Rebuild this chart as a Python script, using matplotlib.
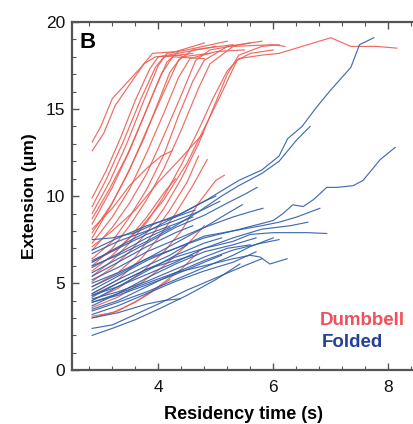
import matplotlib
matplotlib.use("Agg")
import matplotlib.pyplot as plt
from matplotlib.ticker import MultipleLocator

plt.rcParams['font.family'] = ['Liberation Sans', 'DejaVu Sans']

# ---- Dumbbell traces (time s, extension um) ----
d01 = [(2.85,13.1),(3.0,14.0),(3.2,15.6),(3.45,16.5),(3.7,17.4),(3.9,18.2),(4.3,18.3),(4.8,18.8)]
d02 = [(2.85,12.6),(3.05,13.6),(3.25,15.2),(3.5,16.4),(3.75,17.6),(3.95,18.0),(4.4,18.1)]
d03 = [(2.85,9.9),(3.1,11.5),(3.35,13.4),(3.6,15.5),(3.85,17.3),(4.0,18.0),(4.5,18.3),(5.0,18.6)]
d04 = [(2.85,9.4),(3.1,11.0),(3.4,13.2),(3.7,15.6),(3.95,17.4),(4.1,18.0),(4.6,18.2)]
d05 = [(2.85,9.0),(3.15,10.8),(3.45,13.0),(3.75,15.5),(4.0,17.5),(4.15,18.2),(4.5,18.4),(5.2,18.9)]
d06 = [(2.85,8.4),(3.2,10.5),(3.5,12.6),(3.8,15.0),(4.05,17.0),(4.25,18.0),(4.8,17.9)]
d07 = [(2.85,7.9),(3.2,9.6),(3.5,11.5),(3.8,13.8),(4.1,16.0),(4.35,17.8),(4.6,18.4),(5.3,18.7)]
d08 = [(2.85,7.3),(3.2,8.8),(3.5,10.4),(3.8,12.5),(4.1,14.8),(4.35,16.8),(4.55,17.9),(5.0,18.3),(5.5,18.4)]
d09 = [(2.85,6.9),(3.2,8.2),(3.5,9.6),(3.8,11.3),(4.1,13.5),(4.4,15.8),(4.65,17.8),(4.9,18.4),(5.6,18.8)]
d10 = [(2.85,6.4),(3.2,7.4),(3.5,8.8),(3.8,10.4),(4.1,12.4),(4.35,14.6),(4.6,16.6),(4.8,17.8),(5.2,18.6),(5.8,18.9)]
d11 = [(2.85,6.0),(3.2,7.0),(3.5,8.3),(3.8,9.8),(4.1,11.6),(4.4,13.8),(4.7,16.2),(4.9,17.6),(5.3,18.6),(6.0,18.7),(6.2,18.6)]
d12 = [(2.85,5.7),(3.2,6.6),(3.5,7.6),(3.8,8.8),(4.1,10.2),(4.3,11.0)]
d13 = [(2.85,5.4),(3.2,6.3),(3.5,7.3),(3.8,8.5),(4.1,10.0),(4.4,11.8),(4.7,13.8),(4.95,15.6),(5.2,17.2),
       (5.4,17.9),(5.8,18.1),(6.1,18.2),(6.5,18.6),(7.0,19.1),(7.35,18.6),(7.8,18.6),(8.15,18.5)]
d14 = [(2.85,5.1),(3.2,5.9),(3.5,6.8),(3.8,7.9),(4.1,9.3),(4.4,11.0),(4.7,13.0),(5.0,15.4),(5.2,17.0),(5.4,18.1),(5.8,18.6),(6.1,18.7)]
d15 = [(2.85,4.8),(3.3,5.6),(3.6,6.5),(3.9,7.8),(4.2,9.2),(4.5,10.8),(4.7,12.3)]
d16 = [(2.85,4.4),(3.3,5.2),(3.7,6.4),(4.0,7.6),(4.3,9.0),(4.6,10.6),(4.85,12.1)]
d17 = [(2.85,4.0),(3.3,4.7),(3.7,5.6),(4.1,6.8),(4.4,8.0),(4.7,9.6),(5.0,10.9),(5.15,11.2)]
d18 = [(2.85,3.6),(3.3,4.2),(3.7,5.0),(4.1,6.0),(4.5,7.2),(4.8,8.3)]
d19 = [(2.85,3.1),(3.2,3.3),(3.6,3.9),(4.0,4.8),(4.4,5.8),(4.7,6.8)]
d20 = [(2.85,3.0),(3.3,3.4),(3.8,4.3),(4.2,5.2)]
d21 = [(2.85,8.1),(3.2,9.3),(3.5,10.6),(3.8,11.6),(4.05,12.3),(4.24,12.6)]
d22 = [(2.85,7.1),(3.2,8.0),(3.6,9.2),(4.0,10.8),(4.4,12.2),(4.78,13.6)]
d23 = [(2.85,6.2),(3.3,7.0),(3.7,8.2),(4.1,9.8),(4.5,11.9),(4.8,13.9),(5.07,15.7),(5.37,17.8),(5.6,18.2),(6.0,18.4)]
d24 = [(2.85,7.6),(3.15,9.3),(3.45,11.2),(3.75,13.3),(4.0,15.4),(4.2,17.1),(4.4,18.0),(4.9,18.2)]
d25 = [(2.85,8.7),(3.15,10.4),(3.45,12.3),(3.7,14.2),(3.95,16.2),(4.15,17.7),(4.35,18.3)]
dumbbell = [d01, d02, d03, d04, d05, d06, d07, d08, d09, d10, d11, d12,
            d13, d14, d15, d16, d17, d18, d19, d20, d21, d22, d23, d24, d25]

# ---- Folded traces ----
f01 = [(2.85,6.2),(3.2,6.9),(3.6,7.6),(4.0,8.3),(4.4,9.0),(4.8,9.7),(5.1,10.3),(5.4,10.9),(5.8,11.5),
       (6.1,12.3),(6.25,13.3),(6.5,14.0),(6.75,15.1),(7.0,16.1),(7.35,17.4),(7.5,18.7),(7.75,19.1)]
f02 = [(2.85,6.0),(3.3,6.6),(3.8,7.4),(4.3,8.3),(4.7,9.1),(5.1,10.0),(5.4,10.6),(5.8,11.3),(6.1,12.0),(6.4,13.2),(6.64,14.0)]
f03 = [(2.85,5.0),(3.3,5.6),(3.8,6.4),(4.3,7.0),(4.8,7.6),(5.3,8.0),(5.77,8.4),(6.0,8.6),(6.17,9.0),(6.34,9.5),
       (6.52,9.4),(6.7,9.8),(6.93,10.5),(7.11,10.5),(7.39,10.6),(7.56,10.9),(7.86,12.1),(8.12,12.8)]
f04 = [(2.85,4.3),(3.3,5.0),(3.8,5.8),(4.3,6.5),(4.8,7.0),(5.3,7.4),(5.6,7.8),(6.0,7.9),(6.6,7.9),(6.93,7.85)]
f05 = [(2.85,3.9),(3.3,4.4),(3.8,5.0),(4.3,5.6),(4.8,6.0),(5.3,6.4),(5.6,6.6),(5.77,6.5),(5.94,6.1),(6.24,6.4)]
f06 = [(2.85,4.6),(3.3,5.4),(3.8,6.3),(4.3,7.0),(4.8,7.7),(5.3,8.0),(5.8,8.3),(6.1,8.5),(6.41,8.8),(6.81,9.3)]
f07 = [(2.85,5.6),(3.3,6.4),(3.8,7.3),(4.3,8.2),(4.8,8.9),(5.2,9.6),(5.5,10.1),(5.72,10.5)]
f08 = [(2.85,5.2),(3.3,5.9),(3.8,6.8),(4.3,7.5),(4.8,8.2),(5.3,8.8),(5.6,9.1),(5.82,9.3)]
f09 = [(2.85,4.8),(3.3,5.5),(3.8,6.4),(4.3,7.3),(4.8,8.2),(5.2,9.0),(5.46,9.5)]
f10 = [(2.85,6.7),(3.3,7.4),(3.8,8.0),(4.3,8.6),(4.7,9.1),(5.07,9.7)]
f11 = [(2.85,6.9),(3.3,7.6),(3.8,8.3),(4.3,8.8),(4.64,9.2)]
f12 = [(2.85,3.0),(3.3,3.3),(3.8,3.8),(4.1,4.0),(4.38,4.1)]
f13 = [(2.85,2.0),(3.2,2.4),(3.6,2.9),(4.0,3.5),(4.5,4.3),(5.0,5.2),(5.42,6.1)]
f14 = [(2.85,2.4),(3.2,2.6),(3.6,3.2),(4.0,3.8),(4.5,4.6),(5.0,5.3),(5.5,6.0),(5.8,6.4)]
f15 = [(2.85,3.2),(3.3,3.7),(3.8,4.4),(4.3,5.1),(4.8,5.7),(5.3,6.2),(5.7,6.8)]
f16 = [(2.85,3.5),(3.3,4.0),(3.8,4.8),(4.3,5.6),(4.8,6.3),(5.3,6.9),(5.8,7.3),(6.1,7.5)]
f17 = [(2.85,3.7),(3.3,4.4),(3.8,5.3),(4.3,6.1),(4.8,6.8),(5.3,7.2),(5.7,7.6)]
f18 = [(2.85,4.0),(3.3,4.8),(3.8,5.7),(4.3,6.6),(4.8,7.3),(5.1,7.6)]
f19 = [(2.85,4.1),(3.3,4.5),(3.8,5.1),(4.3,5.8),(4.8,6.5),(5.2,7.0),(5.6,7.2)]
f20 = [(2.85,4.2),(3.3,5.0),(3.8,5.8),(4.3,6.3),(4.6,6.6)]
f21 = [(2.85,4.4),(3.3,5.2),(3.8,6.0),(4.2,6.6),(4.5,7.2)]
f22 = [(2.85,5.4),(3.3,6.2),(3.8,7.1),(4.3,7.9),(4.6,8.3)]
f23 = [(2.85,5.9),(3.3,6.7),(3.8,7.6),(4.2,8.2)]
f24 = [(2.85,6.3),(3.3,7.0),(3.8,7.8),(4.3,8.4),(4.6,8.8)]
f25 = [(2.85,3.4),(3.3,3.9),(3.8,4.5),(4.3,5.2),(4.8,5.9),(5.3,6.6),(5.6,7.1),(6.0,7.6)]
f26 = [(2.85,3.9),(3.3,4.3),(3.8,4.9),(4.3,5.5),(4.8,6.2),(5.1,6.6)]
f27 = [(2.85,4.3),(3.3,4.8),(3.8,5.5),(4.3,6.2),(4.8,7.0),(5.3,7.6),(5.8,8.1),(6.3,8.3),(6.6,8.5)]
f28 = [(2.85,7.5),(3.2,7.6),(3.6,7.9),(4.0,8.5),(4.4,9.0),(4.8,9.7),(5.0,10.0)]
folded = [f01, f02, f03, f04, f05, f06, f07, f08, f09, f10, f11, f12, f13, f14,
          f15, f16, f17, f18, f19, f20, f21, f22, f23, f24, f25, f26, f27, f28]

x_ticks = [4, 6, 8]
y_ticks = [0, 5, 10, 15, 20]

red = '#EC5B52'
blue = '#2F5DA8'

fig = plt.figure(figsize=(4.14, 4.24), dpi=100)
ax = fig.add_axes([0.174, 0.127, 0.83, 0.821])

for tr in dumbbell:
    xs, ys = zip(*tr)
    ax.plot(xs, ys, color=red, lw=0.85, alpha=0.9)
for tr in folded:
    xs, ys = zip(*tr)
    ax.plot(xs, ys, color=blue, lw=0.85, alpha=0.9)

ax.set_xlim(2.5, 8.476)
ax.set_ylim(0, 20)
ax.set_xticks(x_ticks)
ax.set_yticks(y_ticks)
ax.xaxis.set_minor_locator(MultipleLocator(0.4))
ax.yaxis.set_minor_locator(MultipleLocator(1))
ax.tick_params(which='both', direction='in', top=True, right=False, color='#555555',
               labelsize=12.5, labelcolor='#111111')
ax.tick_params(which='major', length=5, width=1)
ax.tick_params(which='minor', length=3, width=0.8)
ax.tick_params(axis='x', pad=7)
ax.tick_params(axis='y', pad=5)
for s in ['left', 'bottom', 'top']:
    ax.spines[s].set_color('#555555')
    ax.spines[s].set_linewidth(1.6)
ax.spines['right'].set_visible(False)

ax.set_xlabel('Residency time (s)', fontsize=13, fontweight='bold', labelpad=8)
ax.set_ylabel('Extension (\u03bcm)', fontsize=12.5, fontweight='bold', labelpad=6)

ax.text(0.022, 0.972, 'B', transform=ax.transAxes, fontsize=16, fontweight='bold',
        va='top', ha='left')
ax.text(0.722, 0.144, 'Dumbbell', transform=ax.transAxes, fontsize=13.5, fontweight='bold',
        color='#F0505C', ha='left', va='center')
ax.text(0.728, 0.078, 'Folded', transform=ax.transAxes, fontsize=13.5, fontweight='bold',
        color='#26409A', ha='left', va='center')

fig.savefig('out.png', dpi=100)
